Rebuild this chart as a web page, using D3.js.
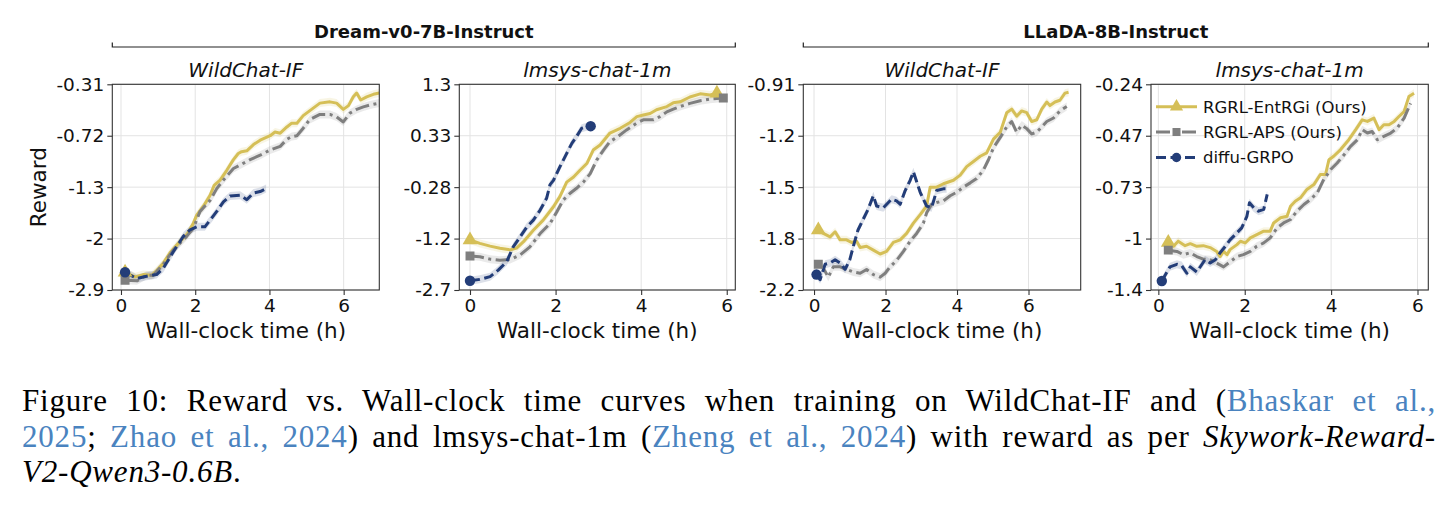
<!DOCTYPE html>
<html><head><meta charset="utf-8">
<script src="https://cdn.jsdelivr.net/npm/d3@7"></script>
<style>body{margin:0;background:#fff}svg{display:block}</style>
</head><body><svg id="c" width="1454" height="512"></svg>
<script>
// ---------------- data ----------------
const hourTicks = [0, 2, 4, 6];
const groupTitles = ["Dream-v0-7B-Instruct", "LLaDA-8B-Instruct"];
const panelTitles = ["WildChat-IF", "lmsys-chat-1m", "WildChat-IF", "lmsys-chat-1m"];
const seriesNames = ["RGRL-EntRGi (Ours)", "RGRL-APS (Ours)", "diffu-GRPO"];
const xLabel = "Wall-clock time (h)";
const yLabel = "Reward";

const yTicksDreamWild = [-2.9, -2, -1.3, -0.72, -0.31];
const yTicksDreamLmsys = [-2.7, -1.2, -0.28, 0.33, 1.3];
const yTicksLladaWild = [-2.2, -1.8, -1.5, -1.2, -0.91];
const yTicksLladaLmsys = [-1.4, -1, -0.73, -0.47, -0.24];

const entrgiDreamWild = [[0.11,-2.59],[0.38,-2.67],[0.60,-2.63],[0.83,-2.64],[0.96,-2.56],[1.14,-2.43],[1.32,-2.25],[1.59,-2.05],[1.77,-1.95],[1.95,-1.79],[2.04,-1.68],[2.22,-1.56],[2.40,-1.41],[2.51,-1.28],[2.67,-1.22],[2.85,-1.11],[3.03,-0.99],[3.16,-0.92],[3.25,-0.90],[3.39,-0.89],[3.57,-0.82],[3.75,-0.77],[4.02,-0.72],[4.15,-0.69],[4.29,-0.70],[4.47,-0.65],[4.60,-0.62],[4.74,-0.62],[4.91,-0.56],[5.09,-0.52],[5.36,-0.46],[5.63,-0.45],[5.81,-0.46],[5.99,-0.51],[6.13,-0.48],[6.26,-0.41],[6.35,-0.38],[6.46,-0.435],[6.62,-0.41],[6.80,-0.39],[6.96,-0.38]];
const apsDreamWild = [[0.11,-2.73],[0.43,-2.74],[0.69,-2.64],[0.87,-2.64],[1.14,-2.45],[1.41,-2.20],[1.77,-1.97],[1.95,-1.86],[2.13,-1.63],[2.40,-1.48],[2.58,-1.32],[2.76,-1.22],[3.03,-1.09],[3.21,-1.05],[3.48,-0.99],[3.75,-0.94],[4.02,-0.88],[4.29,-0.84],[4.47,-0.76],[4.60,-0.73],[4.74,-0.72],[4.91,-0.66],[5.09,-0.59],[5.36,-0.55],[5.63,-0.55],[5.81,-0.57],[5.99,-0.61],[6.17,-0.54],[6.35,-0.51],[6.53,-0.49],[6.71,-0.475],[6.96,-0.46]];
const diffuDreamWild = [[0.11,-2.59],[0.43,-2.70],[0.69,-2.66],[0.96,-2.63],[1.14,-2.52],[1.41,-2.23],[1.68,-1.97],[1.86,-1.88],[2.04,-1.84],[2.26,-1.84],[2.40,-1.75],[2.58,-1.63],[2.76,-1.50],[2.94,-1.42],[3.21,-1.41],[3.39,-1.47],[3.57,-1.38],[3.75,-1.36],[3.91,-1.32]];

const entrgiDreamLmsys = [[0,-1.24],[0.23,-1.34],[0.47,-1.42],[0.70,-1.48],[0.94,-1.53],[1.09,-1.48],[1.25,-1.29],[1.48,-1.05],[1.71,-0.87],[1.95,-0.63],[2.10,-0.45],[2.26,-0.22],[2.42,-0.16],[2.57,-0.08],[2.73,0.00],[2.88,0.16],[3.04,0.22],[3.27,0.38],[3.51,0.47],[3.74,0.58],[3.90,0.69],[4.05,0.72],[4.21,0.75],[4.36,0.82],[4.60,0.88],[4.75,0.95],[4.91,0.97],[5.14,1.06],[5.38,1.12],[5.61,1.10],[5.77,1.13]];
const apsDreamLmsys = [[0,-1.71],[0.23,-1.73],[0.47,-1.80],[0.70,-1.83],[0.94,-1.81],[1.17,-1.68],[1.40,-1.44],[1.64,-1.11],[1.87,-0.93],[2.03,-0.72],[2.18,-0.51],[2.34,-0.39],[2.49,-0.30],[2.65,-0.22],[2.81,-0.12],[2.96,0.04],[3.12,0.16],[3.27,0.26],[3.43,0.31],[3.66,0.44],[3.90,0.57],[4.05,0.63],[4.29,0.63],[4.44,0.69],[4.60,0.78],[4.75,0.83],[4.91,0.88],[5.14,0.94],[5.38,0.99],[5.61,1.02],[5.92,1.04]];
const diffuDreamLmsys = [[0,-2.43],[0.23,-2.39],[0.47,-2.31],[0.66,-2.12],[0.86,-1.87],[1.01,-1.44],[1.17,-1.17],[1.33,-0.99],[1.48,-0.87],[1.64,-0.69],[1.79,-0.48],[1.87,-0.25],[1.95,-0.20],[2.10,-0.04],[2.26,0.12],[2.38,0.24],[2.49,0.32],[2.61,0.47],[2.73,0.50],[2.82,0.51]];

const entrgiLladaWild = [[0.12,-1.75],[0.26,-1.77],[0.45,-1.79],[0.59,-1.76],[0.73,-1.81],[0.91,-1.81],[1.05,-1.83],[1.19,-1.82],[1.29,-1.87],[1.47,-1.86],[1.66,-1.89],[1.85,-1.92],[2.03,-1.90],[2.22,-1.83],[2.41,-1.81],[2.59,-1.77],[2.78,-1.71],[2.97,-1.66],[3.15,-1.61],[3.25,-1.50],[3.43,-1.50],[3.62,-1.48],[3.90,-1.46],[4.09,-1.43],[4.27,-1.38],[4.46,-1.35],[4.65,-1.32],[4.83,-1.30],[5.02,-1.22],[5.21,-1.18],[5.39,-1.07],[5.53,-1.05],[5.67,-1.09],[5.81,-1.06],[5.95,-1.07],[6.09,-1.12],[6.23,-1.11],[6.37,-1.05],[6.51,-1.01],[6.60,-1.03],[6.74,-1.01],[6.88,-1.00],[7.02,-0.96],[7.12,-0.955]];
const apsLladaWild = [[0.12,-2.00],[0.26,-2.03],[0.40,-2.10],[0.54,-2.02],[0.73,-2.02],[0.91,-2.04],[1.10,-2.06],[1.29,-2.07],[1.47,-2.04],[1.66,-2.08],[1.85,-2.10],[1.99,-2.07],[2.13,-2.02],[2.31,-1.97],[2.50,-1.90],[2.69,-1.82],[2.87,-1.77],[3.06,-1.71],[3.15,-1.65],[3.29,-1.60],[3.43,-1.59],[3.62,-1.58],[3.81,-1.55],[3.99,-1.53],[4.18,-1.50],[4.37,-1.475],[4.55,-1.45],[4.74,-1.40],[4.88,-1.34],[5.02,-1.27],[5.21,-1.21],[5.39,-1.15],[5.53,-1.12],[5.67,-1.18],[5.81,-1.14],[5.95,-1.16],[6.09,-1.19],[6.23,-1.18],[6.37,-1.15],[6.51,-1.12],[6.70,-1.10],[6.88,-1.06],[7.07,-1.035]];
const diffuLladaWild = [[0.07,-2.08],[0.17,-2.12],[0.31,-2.00],[0.45,-1.99],[0.59,-1.965],[0.73,-1.99],[0.87,-2.04],[1.00,-1.965],[1.10,-1.86],[1.23,-1.75],[1.37,-1.69],[1.51,-1.63],[1.66,-1.55],[1.75,-1.61],[1.94,-1.62],[2.17,-1.57],[2.31,-1.58],[2.41,-1.60],[2.55,-1.52],[2.69,-1.46],[2.78,-1.41],[2.97,-1.53],[3.15,-1.61],[3.29,-1.62],[3.43,-1.52],[3.62,-1.51],[3.71,-1.51]];

const entrgiLladaLmsys = [[0.23,-1.03],[0.35,-1.06],[0.46,-1.02],[0.62,-1.055],[0.74,-1.04],[0.89,-1.06],[1.04,-1.055],[1.20,-1.07],[1.35,-1.10],[1.43,-1.14],[1.51,-1.10],[1.59,-1.125],[1.66,-1.086],[1.82,-1.047],[1.90,-1.021],[2.01,-1.034],[2.13,-0.996],[2.28,-0.979],[2.44,-0.961],[2.59,-0.961],[2.67,-0.918],[2.83,-0.891],[2.98,-0.883],[3.06,-0.830],[3.17,-0.804],[3.29,-0.786],[3.44,-0.742],[3.60,-0.717],[3.75,-0.666],[3.87,-0.666],[3.95,-0.591],[4.06,-0.574],[4.22,-0.540],[4.41,-0.490],[4.57,-0.443],[4.72,-0.399],[4.84,-0.406],[4.99,-0.391],[5.11,-0.443],[5.22,-0.421],[5.34,-0.421],[5.46,-0.406],[5.57,-0.384],[5.69,-0.362],[5.80,-0.295],[5.92,-0.280]];
const apsLladaLmsys = [[0.23,-1.09],[0.43,-1.10],[0.58,-1.125],[0.74,-1.11],[0.89,-1.14],[1.04,-1.16],[1.20,-1.165],[1.35,-1.19],[1.51,-1.22],[1.66,-1.18],[1.82,-1.14],[1.97,-1.125],[2.13,-1.10],[2.28,-1.06],[2.44,-1.034],[2.59,-0.996],[2.75,-0.944],[2.90,-0.918],[3.06,-0.900],[3.21,-0.856],[3.37,-0.821],[3.52,-0.795],[3.68,-0.760],[3.83,-0.691],[3.99,-0.641],[4.14,-0.608],[4.30,-0.566],[4.45,-0.524],[4.61,-0.490],[4.72,-0.443],[4.84,-0.458],[4.95,-0.451],[5.07,-0.490],[5.22,-0.473],[5.38,-0.458],[5.53,-0.436],[5.69,-0.391],[5.84,-0.325]];
const diffuLladaLmsys = [[0.08,-1.33],[0.27,-1.22],[0.43,-1.20],[0.54,-1.21],[0.66,-1.27],[0.74,-1.22],[0.89,-1.26],[1.08,-1.165],[1.20,-1.19],[1.32,-1.165],[1.43,-1.11],[1.55,-1.06],[1.66,-1.01],[1.82,-0.97],[1.93,-0.944],[2.05,-0.883],[2.11,-0.812],[2.21,-0.839],[2.32,-0.856],[2.44,-0.847],[2.52,-0.768]];

const captionLines = [
  [["Figure 10: Reward vs. Wall-clock time curves when training on WildChat-IF and (", ""], ["Bhaskar et al.,", "link"]],
  [["2025", "link"], ["; ", ""], ["Zhao et al., 2024", "link"], [") and lmsys-chat-1m (", ""], ["Zheng et al., 2024", "link"], [") with reward as per ", ""], ["Skywork-Reward-", "it"]],
  [["V2-Qwen3-0.6B", "it"], [".", ""]]
];

// ---------------- layout / style ----------------
const W = 1454, H = 512;
const plotTop = 84.3, plotBot = 290;
const panels = [
  {l: 112.3, r: 379.3, xDom: [-0.234, 6.96], yTicks: yTicksDreamWild, series: [entrgiDreamWild, apsDreamWild, diffuDreamWild], endMarks: false},
  {l: 459.3, r: 735.3, xDom: [-0.25, 6.2], yTicks: yTicksDreamLmsys, series: [entrgiDreamLmsys, apsDreamLmsys, diffuDreamLmsys], endMarks: true},
  {l: 803.3, r: 1080.7, xDom: [-0.30, 7.46], yTicks: yTicksLladaWild, series: [entrgiLladaWild, apsLladaWild, diffuLladaWild], endMarks: false},
  {l: 1151, r: 1428.3, xDom: [-0.17, 6.25], yTicks: yTicksLladaLmsys, series: [entrgiLladaLmsys, apsLladaLmsys, diffuLladaLmsys], endMarks: false}
];
const styles = [
  {color: "#d5bf57", dash: null, sym: d3.symbolTriangle, size: 95},
  {color: "#7f7f7f", dash: "14,4.5,3,4.5", sym: d3.symbolSquare, size: 80},
  {color: "#233d78", dash: "10,4.5", sym: d3.symbolCircle, size: 85}
];
const sans = "'DejaVu Sans', sans-serif";

const svg = d3.select("#c");
svg.append("rect").attr("width", W).attr("height", H).attr("fill", "#fff");
const defs = svg.append("defs");

panels.forEach((p, pi) => {
  const x = d3.scaleLinear().domain(p.xDom).range([p.l, p.r]);
  const n = p.yTicks.length - 1;
  const y = d3.scaleLinear().domain(p.yTicks).range(p.yTicks.map((d, i) => plotBot - (plotBot - plotTop) * i / n));
  const g = svg.append("g");

  // grid
  g.append("g").selectAll("line").data(hourTicks).join("line")
    .attr("x1", d => x(d)).attr("x2", d => x(d)).attr("y1", plotTop).attr("y2", plotBot)
    .attr("stroke", "#e3e3e3").attr("stroke-width", 1);
  g.append("g").selectAll("line").data(p.yTicks).join("line")
    .attr("x1", p.l).attr("x2", p.r).attr("y1", d => y(d)).attr("y2", d => y(d))
    .attr("stroke", "#e3e3e3").attr("stroke-width", 1);

  const cid = "clip" + pi;
  defs.append("clipPath").attr("id", cid).append("rect")
    .attr("x", p.l).attr("y", plotTop).attr("width", p.r - p.l).attr("height", plotBot - plotTop);
  const pg = g.append("g").attr("clip-path", `url(#${cid})`);

  const line = d3.line().x(d => x(d[0])).y(d => y(d[1]));
  const band = d3.area().x(d => x(d[0])).y0(d => y(d[1]) - 4).y1(d => y(d[1]) + 4);

  p.series.forEach((s, si) => {
    pg.append("path").datum(s).attr("d", band).attr("fill", styles[si].color).attr("opacity", 0.16);
  });
  p.series.forEach((s, si) => {
    pg.append("path").datum(s).attr("d", line).attr("fill", "none")
      .attr("stroke", styles[si].color).attr("stroke-width", 3)
      .attr("stroke-dasharray", styles[si].dash)
      .attr("stroke-linejoin", "round");
  });
  p.series.forEach((s, si) => {
    const pts = p.endMarks ? [s[0], s[s.length - 1]] : [s[0]];
    pg.selectAll(null).data(pts).join("path")
      .attr("d", d3.symbol().type(styles[si].sym).size(styles[si].size))
      .attr("transform", d => `translate(${x(d[0])},${y(d[1])})`)
      .attr("fill", styles[si].color);
  });

  // frame
  g.append("rect").attr("x", p.l).attr("y", plotTop).attr("width", p.r - p.l).attr("height", plotBot - plotTop)
    .attr("fill", "none").attr("stroke", "#333").attr("stroke-width", 1.1);

  // axes
  const ax = g.append("g").attr("transform", `translate(0,${plotBot})`)
    .call(d3.axisBottom(x).tickValues(hourTicks).tickSize(5).tickPadding(4).tickFormat(d => String(d)));
  const ay = g.append("g").attr("transform", `translate(${p.l},0)`)
    .call(d3.axisLeft(y).tickValues(p.yTicks).tickSize(5).tickPadding(3).tickFormat(d => String(d)));
  [ax, ay].forEach(a => {
    a.select(".domain").remove();
    a.selectAll("line").attr("stroke", "#333").attr("stroke-width", 1.1);
    a.selectAll("text").attr("font-family", sans).attr("font-size", "18.5px").attr("fill", "#111");
  });

  // titles / labels
  g.append("text").attr("x", (p.l + p.r) / 2).attr("y", 77).attr("text-anchor", "middle")
    .attr("font-family", sans).attr("font-style", "italic").attr("font-size", "20px").attr("fill", "#111")
    .text(panelTitles[pi]);
  g.append("text").attr("x", (p.l + p.r) / 2).attr("y", 338).attr("text-anchor", "middle")
    .attr("font-family", sans).attr("font-size", "21.5px").attr("fill", "#111").text(xLabel);
  if (pi === 0) {
    g.append("text").attr("transform", `translate(46,${(plotTop + plotBot) / 2}) rotate(-90)`)
      .attr("text-anchor", "middle").attr("font-family", sans).attr("font-size", "21.5px").attr("fill", "#111")
      .text(yLabel);
  }
});

// group brackets
[[0, 1], [2, 3]].forEach((pair, gi) => {
  const l = panels[pair[0]].l, r = panels[pair[1]].r;
  const g = svg.append("g");
  g.append("path").attr("d", `M${l},42.5V47H${r}V42.5`).attr("fill", "none").attr("stroke", "#222").attr("stroke-width", 1.2);
  g.append("text").attr("x", (l + r) / 2).attr("y", 38).attr("text-anchor", "middle")
    .attr("font-family", sans).attr("font-weight", "bold").attr("font-size", "18px").attr("fill", "#111")
    .text(groupTitles[gi]);
});

// legend (last panel)
{
  const lx = 1156, rows = [106.7, 132, 157.5];
  const lg = svg.append("g");
  seriesNames.forEach((name, i) => {
    lg.append("line").attr("x1", lx).attr("x2", lx + 41).attr("y1", rows[i]).attr("y2", rows[i])
      .attr("stroke", styles[i].color).attr("stroke-width", 3).attr("stroke-dasharray", styles[i].dash);
    lg.append("path").attr("d", d3.symbol().type(styles[i].sym).size(styles[i].size * 0.8)())
      .attr("transform", `translate(${lx + 20.5},${rows[i]})`).attr("fill", styles[i].color);
    lg.append("text").attr("x", lx + 47).attr("y", rows[i]).attr("dy", "0.36em")
      .attr("font-family", sans).attr("font-size", "16.5px").attr("fill", "#111").text(name);
  });
}

// caption
{
  const baselines = [411, 446.5, 482];
  const left = 22, right = 1436;
  captionLines.forEach((parts, li) => {
    const t = svg.append("text").attr("x", left).attr("y", baselines[li])
      .attr("font-family", "'Liberation Serif', 'Times New Roman', serif").attr("font-size", "31px")
      .attr("letter-spacing", "0.8px").attr("fill", "#000")
      .attr("xml:space", "preserve").style("white-space", "pre");
    parts.forEach(([txt, kind]) => {
      const s = t.append("tspan").text(txt);
      if (kind === "link") s.attr("fill", "#4a83bf");
      if (kind === "it") s.attr("font-style", "italic");
    });
    if (li < 2) {
      const full = parts.map(d => d[0]).join("");
      const spaces = (full.match(/ /g) || []).length;
      const len = t.node().getBBox().width;
      t.attr("word-spacing", Math.max(0, ((right - left) - len) / spaces));
    }
  });
}
</script></body></html>
